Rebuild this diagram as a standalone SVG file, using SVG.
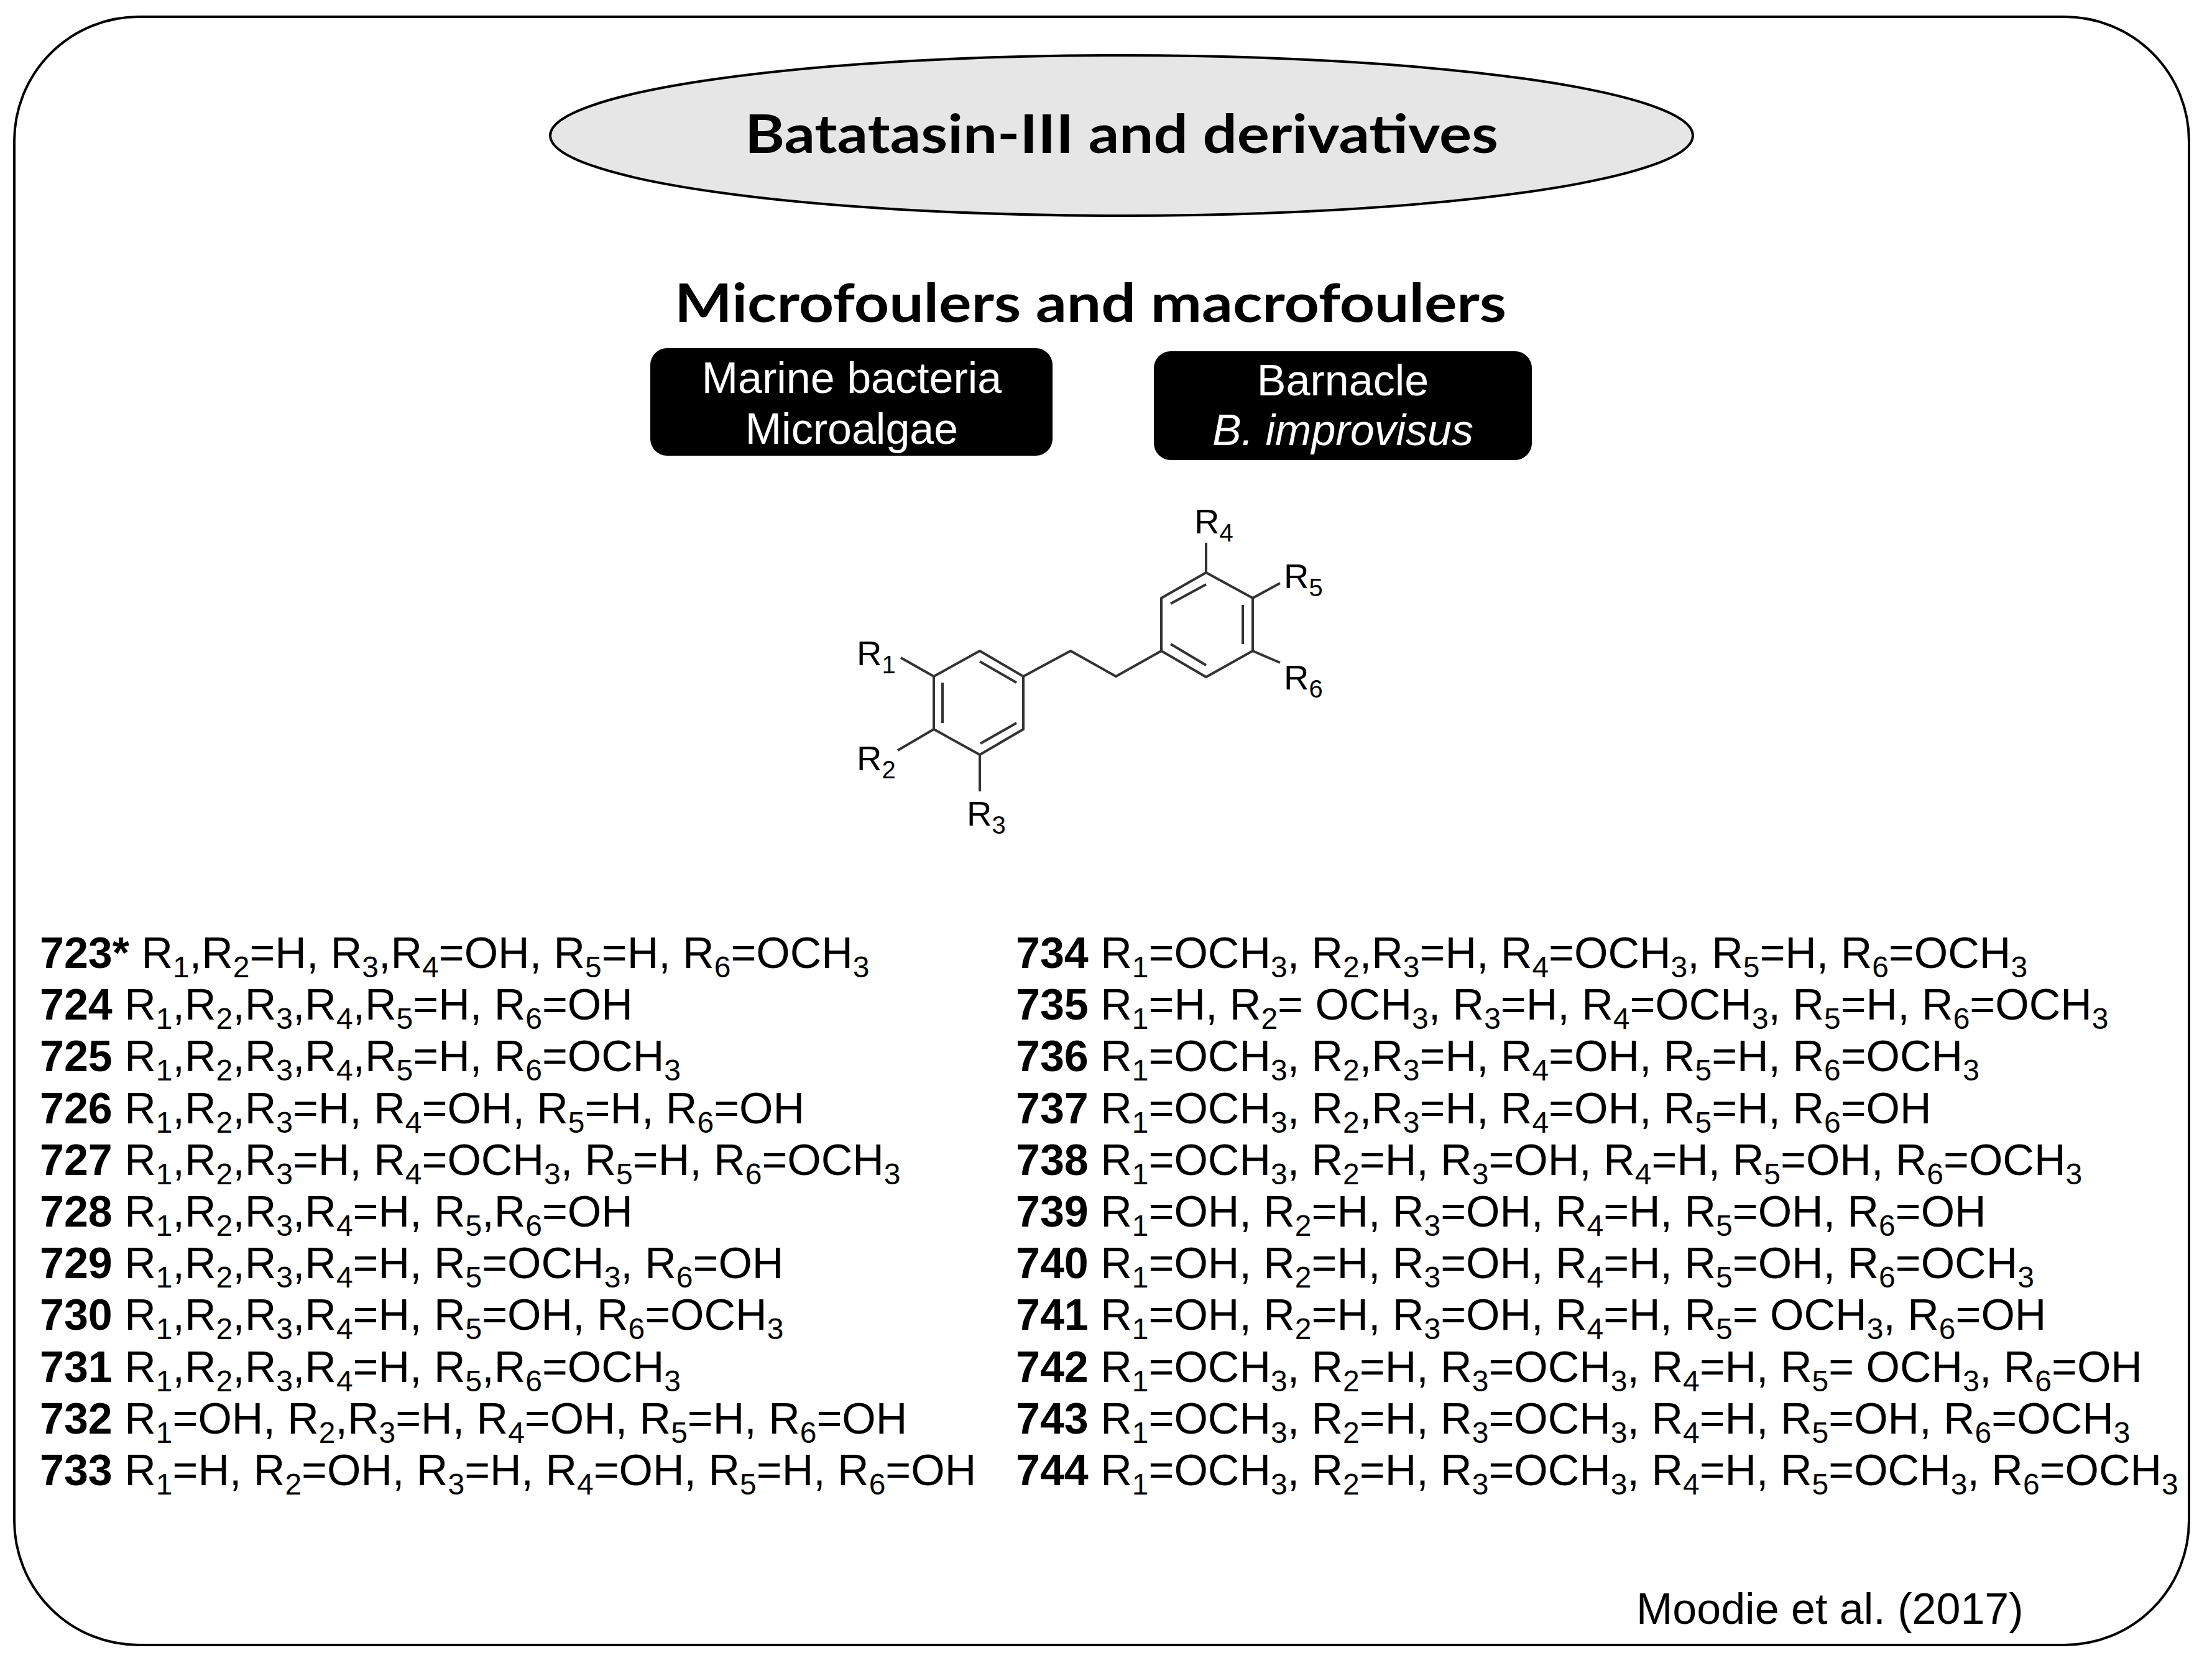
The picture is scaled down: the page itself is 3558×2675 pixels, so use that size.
<svg xmlns="http://www.w3.org/2000/svg" width="3558" height="2675" viewBox="0 0 3558 2675">
<style>
.t{font-family:"Liberation Sans",Arial,sans-serif;font-size:70px;fill:#000}
.b{font-weight:bold}
.s{font-size:48px;baseline-shift:-15px}
.r{font-family:"Liberation Sans",Arial,sans-serif;font-size:56px;fill:#000}
.rs{font-size:40px;baseline-shift:-13px}
.bond{stroke:#333;stroke-width:4;fill:none;stroke-linejoin:round}
</style>
<rect x="0" y="0" width="3558" height="2675" fill="#fff"/>
<rect id="frame" x="23" y="27" width="3498" height="2619" rx="200" ry="200" fill="none" stroke="#000" stroke-width="4"/>
<g id="title">
<ellipse cx="1804" cy="218" rx="919" ry="129" fill="#e6e6e6" stroke="#000" stroke-width="4"/>
<text x="1804" y="246" text-anchor="middle" font-family="Lato,'Open Sans',sans-serif" font-weight="bold" font-size="86" textLength="1212" lengthAdjust="spacingAndGlyphs">Batatasin-III and derivatives</text>
</g>
<g id="heading">
<text x="1754" y="518" text-anchor="middle" font-family="Lato,'Open Sans',sans-serif" font-weight="bold" font-size="86" textLength="1338" lengthAdjust="spacingAndGlyphs">Microfoulers and macrofoulers</text>
</g>
<g id="box1">
<rect x="1046" y="560" width="647" height="173" rx="27" fill="#000"/>
<text x="1370" y="632" text-anchor="middle" font-family="'Liberation Sans',Arial,sans-serif" font-size="70" fill="#fff">Marine bacteria</text>
<text x="1370" y="714" text-anchor="middle" font-family="'Liberation Sans',Arial,sans-serif" font-size="70" fill="#fff">Microalgae</text>
</g>
<g id="box2">
<rect x="1856" y="565" width="608" height="175" rx="27" fill="#000"/>
<text x="2160" y="636" text-anchor="middle" font-family="'Liberation Sans',Arial,sans-serif" font-size="70" fill="#fff">Barnacle</text>
<text x="2160" y="716" text-anchor="middle" font-family="'Liberation Sans',Arial,sans-serif" font-size="70" font-style="italic" fill="#fff">B. improvisus</text>
</g>
<g id="structure">
<path class="bond" d="M1576,1047 L1646,1088 L1646,1173 L1576,1214 L1502,1173 L1502,1088 Z"/>
<path class="bond" d="M1646,1088 L1722,1047 L1795,1088 L1868,1047"/>
<path class="bond" d="M1868,1047 L1868,962 L1940,921 L2015,962 L2015,1047 L1940,1089 Z"/>
<path class="bond" d="M1576,1064 L1635,1098 M1516,1098 L1516,1163 M1577,1196 L1635,1163 M1883,971 L1940,940 M1999,973 L1999,1036 M1883,1036 L1940,1070"/>
<path class="bond" d="M1502,1088 L1449,1058 M1502,1173 L1444,1207 M1576,1214 L1576,1273 M1940,921 L1940,873 M2015,962 L2059,938 M2015,1047 L2059,1066"/>
<text class="r" x="1378" y="1070">R<tspan class="rs">1</tspan></text>
<text class="r" x="1378" y="1239">R<tspan class="rs">2</tspan></text>
<text class="r" x="1555" y="1328">R<tspan class="rs">3</tspan></text>
<text class="r" x="1921" y="858">R<tspan class="rs">4</tspan></text>
<text class="r" x="2065" y="946">R<tspan class="rs">5</tspan></text>
<text class="r" x="2065" y="1109">R<tspan class="rs">6</tspan></text>
</g>
<g id="list-left">
<text class="t" x="64" y="1557"><tspan class="b">723*</tspan> R<tspan class="s">1</tspan>,R<tspan class="s">2</tspan>=H, R<tspan class="s">3</tspan>,R<tspan class="s">4</tspan>=OH, R<tspan class="s">5</tspan>=H, R<tspan class="s">6</tspan>=OCH<tspan class="s">3</tspan></text>
<text class="t" x="64" y="1640"><tspan class="b">724</tspan> R<tspan class="s">1</tspan>,R<tspan class="s">2</tspan>,R<tspan class="s">3</tspan>,R<tspan class="s">4</tspan>,R<tspan class="s">5</tspan>=H, R<tspan class="s">6</tspan>=OH</text>
<text class="t" x="64" y="1723"><tspan class="b">725</tspan> R<tspan class="s">1</tspan>,R<tspan class="s">2</tspan>,R<tspan class="s">3</tspan>,R<tspan class="s">4</tspan>,R<tspan class="s">5</tspan>=H, R<tspan class="s">6</tspan>=OCH<tspan class="s">3</tspan></text>
<text class="t" x="64" y="1807"><tspan class="b">726</tspan> R<tspan class="s">1</tspan>,R<tspan class="s">2</tspan>,R<tspan class="s">3</tspan>=H, R<tspan class="s">4</tspan>=OH, R<tspan class="s">5</tspan>=H, R<tspan class="s">6</tspan>=OH</text>
<text class="t" x="64" y="1890"><tspan class="b">727</tspan> R<tspan class="s">1</tspan>,R<tspan class="s">2</tspan>,R<tspan class="s">3</tspan>=H, R<tspan class="s">4</tspan>=OCH<tspan class="s">3</tspan>, R<tspan class="s">5</tspan>=H, R<tspan class="s">6</tspan>=OCH<tspan class="s">3</tspan></text>
<text class="t" x="64" y="1973"><tspan class="b">728</tspan> R<tspan class="s">1</tspan>,R<tspan class="s">2</tspan>,R<tspan class="s">3</tspan>,R<tspan class="s">4</tspan>=H, R<tspan class="s">5</tspan>,R<tspan class="s">6</tspan>=OH</text>
<text class="t" x="64" y="2056"><tspan class="b">729</tspan> R<tspan class="s">1</tspan>,R<tspan class="s">2</tspan>,R<tspan class="s">3</tspan>,R<tspan class="s">4</tspan>=H, R<tspan class="s">5</tspan>=OCH<tspan class="s">3</tspan>, R<tspan class="s">6</tspan>=OH</text>
<text class="t" x="64" y="2139"><tspan class="b">730</tspan> R<tspan class="s">1</tspan>,R<tspan class="s">2</tspan>,R<tspan class="s">3</tspan>,R<tspan class="s">4</tspan>=H, R<tspan class="s">5</tspan>=OH, R<tspan class="s">6</tspan>=OCH<tspan class="s">3</tspan></text>
<text class="t" x="64" y="2223"><tspan class="b">731</tspan> R<tspan class="s">1</tspan>,R<tspan class="s">2</tspan>,R<tspan class="s">3</tspan>,R<tspan class="s">4</tspan>=H, R<tspan class="s">5</tspan>,R<tspan class="s">6</tspan>=OCH<tspan class="s">3</tspan></text>
<text class="t" x="64" y="2306"><tspan class="b">732</tspan> R<tspan class="s">1</tspan>=OH, R<tspan class="s">2</tspan>,R<tspan class="s">3</tspan>=H, R<tspan class="s">4</tspan>=OH, R<tspan class="s">5</tspan>=H, R<tspan class="s">6</tspan>=OH</text>
<text class="t" x="64" y="2389"><tspan class="b">733</tspan> R<tspan class="s">1</tspan>=H, R<tspan class="s">2</tspan>=OH, R<tspan class="s">3</tspan>=H, R<tspan class="s">4</tspan>=OH, R<tspan class="s">5</tspan>=H, R<tspan class="s">6</tspan>=OH</text>
</g>
<g id="list-right">
<text class="t" x="1634" y="1557"><tspan class="b">734</tspan> R<tspan class="s">1</tspan>=OCH<tspan class="s">3</tspan>, R<tspan class="s">2</tspan>,R<tspan class="s">3</tspan>=H, R<tspan class="s">4</tspan>=OCH<tspan class="s">3</tspan>, R<tspan class="s">5</tspan>=H, R<tspan class="s">6</tspan>=OCH<tspan class="s">3</tspan></text>
<text class="t" x="1634" y="1640"><tspan class="b">735</tspan> R<tspan class="s">1</tspan>=H, R<tspan class="s">2</tspan>= OCH<tspan class="s">3</tspan>, R<tspan class="s">3</tspan>=H, R<tspan class="s">4</tspan>=OCH<tspan class="s">3</tspan>, R<tspan class="s">5</tspan>=H, R<tspan class="s">6</tspan>=OCH<tspan class="s">3</tspan></text>
<text class="t" x="1634" y="1723"><tspan class="b">736</tspan> R<tspan class="s">1</tspan>=OCH<tspan class="s">3</tspan>, R<tspan class="s">2</tspan>,R<tspan class="s">3</tspan>=H, R<tspan class="s">4</tspan>=OH, R<tspan class="s">5</tspan>=H, R<tspan class="s">6</tspan>=OCH<tspan class="s">3</tspan></text>
<text class="t" x="1634" y="1807"><tspan class="b">737</tspan> R<tspan class="s">1</tspan>=OCH<tspan class="s">3</tspan>, R<tspan class="s">2</tspan>,R<tspan class="s">3</tspan>=H, R<tspan class="s">4</tspan>=OH, R<tspan class="s">5</tspan>=H, R<tspan class="s">6</tspan>=OH</text>
<text class="t" x="1634" y="1890"><tspan class="b">738</tspan> R<tspan class="s">1</tspan>=OCH<tspan class="s">3</tspan>, R<tspan class="s">2</tspan>=H, R<tspan class="s">3</tspan>=OH, R<tspan class="s">4</tspan>=H, R<tspan class="s">5</tspan>=OH, R<tspan class="s">6</tspan>=OCH<tspan class="s">3</tspan></text>
<text class="t" x="1634" y="1973"><tspan class="b">739</tspan> R<tspan class="s">1</tspan>=OH, R<tspan class="s">2</tspan>=H, R<tspan class="s">3</tspan>=OH, R<tspan class="s">4</tspan>=H, R<tspan class="s">5</tspan>=OH, R<tspan class="s">6</tspan>=OH</text>
<text class="t" x="1634" y="2056"><tspan class="b">740</tspan> R<tspan class="s">1</tspan>=OH, R<tspan class="s">2</tspan>=H, R<tspan class="s">3</tspan>=OH, R<tspan class="s">4</tspan>=H, R<tspan class="s">5</tspan>=OH, R<tspan class="s">6</tspan>=OCH<tspan class="s">3</tspan></text>
<text class="t" x="1634" y="2139"><tspan class="b">741</tspan> R<tspan class="s">1</tspan>=OH, R<tspan class="s">2</tspan>=H, R<tspan class="s">3</tspan>=OH, R<tspan class="s">4</tspan>=H, R<tspan class="s">5</tspan>= OCH<tspan class="s">3</tspan>, R<tspan class="s">6</tspan>=OH</text>
<text class="t" x="1634" y="2223"><tspan class="b">742</tspan> R<tspan class="s">1</tspan>=OCH<tspan class="s">3</tspan>, R<tspan class="s">2</tspan>=H, R<tspan class="s">3</tspan>=OCH<tspan class="s">3</tspan>, R<tspan class="s">4</tspan>=H, R<tspan class="s">5</tspan>= OCH<tspan class="s">3</tspan>, R<tspan class="s">6</tspan>=OH</text>
<text class="t" x="1634" y="2306"><tspan class="b">743</tspan> R<tspan class="s">1</tspan>=OCH<tspan class="s">3</tspan>, R<tspan class="s">2</tspan>=H, R<tspan class="s">3</tspan>=OCH<tspan class="s">3</tspan>, R<tspan class="s">4</tspan>=H, R<tspan class="s">5</tspan>=OH, R<tspan class="s">6</tspan>=OCH<tspan class="s">3</tspan></text>
<text class="t" x="1634" y="2389"><tspan class="b">744</tspan> R<tspan class="s">1</tspan>=OCH<tspan class="s">3</tspan>, R<tspan class="s">2</tspan>=H, R<tspan class="s">3</tspan>=OCH<tspan class="s">3</tspan>, R<tspan class="s">4</tspan>=H, R<tspan class="s">5</tspan>=OCH<tspan class="s">3</tspan>, R<tspan class="s">6</tspan>=OCH<tspan class="s">3</tspan></text>
</g>
<g id="citation">
<text x="2632" y="2612" font-family="'Liberation Sans',Arial,sans-serif" font-size="70" fill="#000">Moodie et al. (2017)</text>
</g>
</svg>
